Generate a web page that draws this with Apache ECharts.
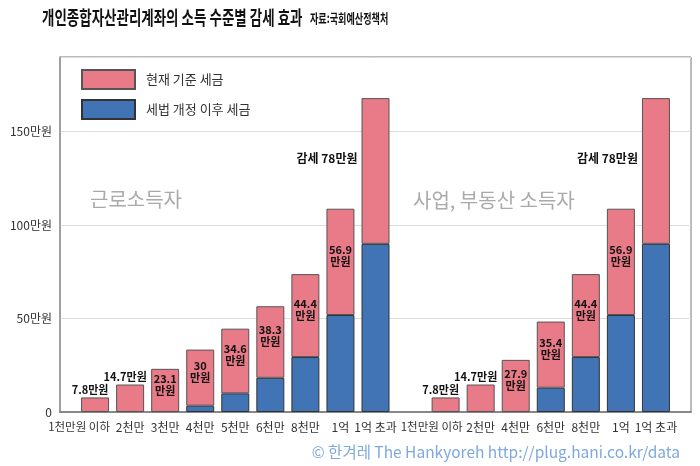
<!DOCTYPE html>
<html><head><meta charset="utf-8">
<script src="https://cdn.jsdelivr.net/npm/echarts@6/dist/echarts.min.js"></script>
<style>html,body{margin:0;padding:0;background:#fff}#c{width:700px;height:466px}</style>
</head><body><div id="c"></div>
<script>
// 근로소득자 (wage earners)
const wageCats   = ['1천만원 이하','2천만','3천만','4천만','5천만','6천만','8천만','1억','1억 초과'];
const wageBefore = [7.8, 14.7, 23.1, 33.4, 44.6, 56.6, 73.8, 108.8, 168];
const wageAfter  = [0, 0, 0, 3.4, 10, 18.3, 29.4, 51.9, 90];
const wageCut    = [7.8, 14.7, 23.1, 30, 34.6, 38.3, 44.4, 56.9, 78];
// 사업, 부동산 소득자 (business / real-estate earners)
const bizCats   = ['1천만원 이하','2천만','4천만','6천만','8천만','1억','1억 초과'];
const bizBefore = [7.8, 14.7, 27.9, 48.4, 73.8, 108.8, 168];
const bizAfter  = [0, 0, 0, 13, 29.4, 51.9, 90];
const bizCut    = [7.8, 14.7, 27.9, 35.4, 44.4, 56.9, 78];
const yTicks = [0, 50, 100, 150];

const FONT = "'Noto Sans CJK KR', 'Noto Sans', sans-serif";
const cats   = [''].concat(wageCats, [''], bizCats, ['']);
const before = [null].concat(wageBefore, [null], bizBefore, [null]);
const after  = [null].concat(wageAfter, [null], bizAfter, [null]);
const cut    = [null].concat(wageCut, [null], bizCut, [null]);
const lastIdx = [wageCats.length, wageCats.length + 1 + bizCats.length];

const labelBase = {show: true, fontSize: 11, fontWeight: 'bold', color: '#111', fontFamily: FONT};
function pinkItem(i) {
  if (before[i] == null) return null;
  const v = +(before[i] - after[i]).toFixed(2);
  let label;
  if (lastIdx.indexOf(i) >= 0) {
    label = Object.assign({}, labelBase, {position: [-4, 60], align: 'right', verticalAlign: 'middle',
      fontSize: 12, formatter: '감세 ' + cut[i] + '만원'});
  } else if (before[i] < 20) {
    label = Object.assign({}, labelBase, {position: 'top', distance: 2, offset: [-5, 0],
      formatter: cut[i] + '만원'});
  } else {
    label = Object.assign({}, labelBase, {position: 'inside', offset: [0, -6], lineHeight: 12,
      formatter: cut[i] + '\n만원'});
  }
  return {value: v, label: label};
}
function blueItem(i) {
  if (after[i] == null) return null;
  if (after[i] === 0) return {value: 0, itemStyle: {borderWidth: 0}};
  return after[i];
}

const chart = echarts.init(document.getElementById('c'));
chart.setOption({
  animation: false,
  textStyle: {fontFamily: FONT},
  grid: {left: 60, top: 57, width: 631, height: 355, show: true, borderColor: '#777', borderWidth: 1},
  legend: {
    data: ['현재 기준 세금', '세법 개정 이후 세금'],
    orient: 'vertical', left: 81, top: 69, padding: 0,
    itemWidth: 53, itemHeight: 19, itemGap: 9, icon: 'rect',
    textStyle: {fontSize: 13, color: '#333', padding: [0, 0, 0, 6], fontFamily: FONT}
  },
  xAxis: {
    type: 'category', data: cats, boundaryGap: false,
    axisLine: {lineStyle: {color: '#888', width: 2}},
    axisTick: {show: false},
    axisLabel: {
      interval: 0, fontSize: 12, color: '#333', margin: 9, fontFamily: FONT,
      formatter: function (v, i) {
        if (v !== '1천만원 이하') return v;
        return (i < wageCats.length + 1 ? '{a|' : '{b|') + v + '}';
      },
      rich: {
        a: {fontSize: 11.5, color: '#333', padding: [0, 32, 0, 0], fontFamily: FONT},
        b: {fontSize: 11.5, color: '#333', padding: [0, 28, 0, 0], fontFamily: FONT}
      }
    }
  },
  yAxis: {
    type: 'value', min: 0, max: 190, interval: 50,
    axisLine: {show: true, lineStyle: {color: '#999', width: 1.5}},
    axisTick: {show: false},
    splitLine: {lineStyle: {color: '#ddd', width: 1}},
    axisLabel: {
      showMaxLabel: false, fontSize: 12, color: '#333', margin: 8, fontFamily: FONT,
      formatter: function (v) { return yTicks.indexOf(v) < 0 ? '' : (v === 0 ? '0' : v + '만원'); }
    }
  },
  series: [
    {
      name: '세법 개정 이후 세금', type: 'bar', stack: 'tax', barWidth: 28,
      itemStyle: {color: '#4074b5', borderColor: '#333', borderWidth: 1},
      data: cats.map(function (c, i) { return blueItem(i); })
    },
    {
      name: '현재 기준 세금', type: 'bar', stack: 'tax', barWidth: 28,
      itemStyle: {color: '#e97a87', borderColor: '#555', borderWidth: 1},
      data: cats.map(function (c, i) { return pinkItem(i); })
    }
  ],
  graphic: [
    {type: 'text', x: 42, y: 18, scaleX: 0.71,
      style: {text: '개인종합자산관리계좌의 소득 수준별 감세 효과', font: 'bold 19px ' + FONT, fill: '#111', verticalAlign: 'middle'}},
    {type: 'text', x: 310, y: 18, scaleX: 0.7,
      style: {text: '자료:국회예산정책처', font: 'bold 13px ' + FONT, fill: '#111', verticalAlign: 'middle'}},
    {type: 'text', x: 90, y: 199,
      style: {text: '근로소득자', font: '20px ' + FONT, fill: '#aaa', verticalAlign: 'middle'}},
    {type: 'text', x: 413, y: 200,
      style: {text: '사업, 부동산 소득자', font: '20px ' + FONT, fill: '#aaa', verticalAlign: 'middle'}},
    {type: 'text', x: 680, y: 452,
      style: {text: '© 한겨레 The Hankyoreh http://plug.hani.co.kr/data', font: '15.5px ' + FONT, fill: '#7ea9dd', align: 'right', verticalAlign: 'middle'}}
  ]
});
</script></body></html>
